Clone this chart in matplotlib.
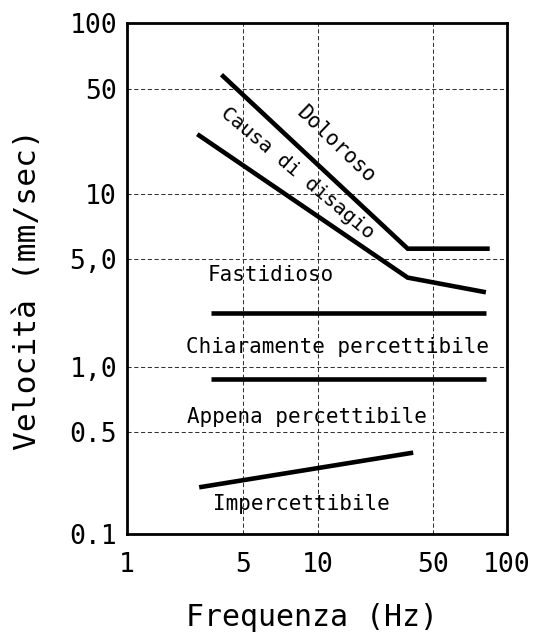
import numpy as np
import matplotlib
matplotlib.use("Agg")
import matplotlib.pyplot as plt
from matplotlib.ticker import FixedLocator, FixedFormatter

# ---- data ----
x_ticks = [1, 5, 10, 50, 100]
x_ticklabels = ["1", "5", "10", "50", "100"]
y_ticks = [0.1, 0.5, 1, 5, 10, 50, 100]
y_ticklabels = ["0.1", "0.5", "1,0", "5,0", "10", "50", "100"]

doloroso_f = [3.7, 35, 85]
doloroso_v = [58, 5.6, 5.6]
disagio_f = [2.65, 35, 82]
disagio_v = [25, 3.8, 3.05]
fastidioso_f = [3.2, 82]
fastidioso_v = [2.23, 2.23]
chiaramente_f = [3.2, 82]
chiaramente_v = [0.877, 0.877]
impercettibile_f = [2.72, 37.8]
impercettibile_v = [0.209, 0.36]

# ---- scale of the original drawing (log decades, 5 placed at ~0.61 of a decade) ----
xk_log = np.log10([1, 5, 10, 50, 100])
xk_pos = np.array([0, 116.6, 191, 306.6, 380.3])
yk_log = np.log10([0.1, 0.5, 1, 5, 10, 50, 100])
yk_pos = np.array([0, 102.6, 167.6, 275, 340, 445.6, 511])


def make_scale(klog, kpos):
    def fwd(v):
        v = np.asarray(v, dtype=float)
        with np.errstate(divide="ignore", invalid="ignore"):
            lv = np.log10(np.where(v > 0, v, np.nan))
        return np.interp(lv, klog, kpos)

    def inv(p):
        p = np.asarray(p, dtype=float)
        return 10 ** np.interp(p, kpos, klog)
    return fwd, inv


W, H = 534, 640
fig = plt.figure(figsize=(W / 100, H / 100), dpi=100)
ax = fig.add_axes([126.7 / W, 1 - 534.3 / H, (507 - 126.7) / W, (534.3 - 23.3) / H])

ax.set_xscale("function", functions=make_scale(xk_log, xk_pos))
ax.set_yscale("function", functions=make_scale(yk_log, yk_pos))
ax.set_xlim(1, 100)
ax.set_ylim(0.1, 100)

mono = "DejaVu Sans Mono"
ax.xaxis.set_major_locator(FixedLocator(x_ticks))
ax.xaxis.set_major_formatter(FixedFormatter(x_ticklabels))
ax.yaxis.set_major_locator(FixedLocator(y_ticks))
ax.yaxis.set_major_formatter(FixedFormatter(y_ticklabels))
ax.xaxis.set_minor_locator(FixedLocator([]))
ax.yaxis.set_minor_locator(FixedLocator([]))
ax.tick_params(axis="both", length=0, labelsize=19)
ax.tick_params(axis="x", pad=13)
ax.tick_params(axis="y", pad=7)
for lab in ax.get_xticklabels() + ax.get_yticklabels():
    lab.set_fontfamily(mono)

ax.grid(True, color="#333333", linestyle=(0, (4, 2.5)), linewidth=0.75)
for s in ax.spines.values():
    s.set_linewidth(2.0)
    s.set_color("black")
    s.set_zorder(5)

lw = 3.3
for fx, vy in [(doloroso_f, doloroso_v), (disagio_f, disagio_v),
               (fastidioso_f, fastidioso_v), (chiaramente_f, chiaramente_v),
               (impercettibile_f, impercettibile_v)]:
    ax.plot(fx, vy, color="black", linewidth=lw, solid_capstyle="butt",
            solid_joinstyle="miter", zorder=3)

tkw = dict(fontfamily=mono, fontsize=15, ha="center", va="center",
           rotation_mode="anchor", zorder=4)
ax.text(13.0, 21.2, "Doloroso", rotation=-44, **tkw)
ax.text(8.3, 13.8, "Causa di disagio", rotation=-40,
        **{**tkw, "fontsize": 14.5})
ax.text(6.46, 3.95, "Fastidioso", **tkw)
ax.text(13.2, 1.35, "Chiaramente percettibile", **tkw)
ax.text(9.08, 0.587, "Appena percettibile", **tkw)
ax.text(8.57, 0.161, "Impercettibile", **tkw)

fig.text(312 / W, 1 - 617 / H, "Frequenza (Hz)", fontfamily=mono,
         fontsize=21.5, ha="center", va="center")
fig.text(28 / W, 1 - 290 / H, "Velocità (mm/sec)", fontfamily=mono,
         fontsize=22.5, ha="center", va="center", rotation=90)

fig.savefig("out.png", dpi=100)
